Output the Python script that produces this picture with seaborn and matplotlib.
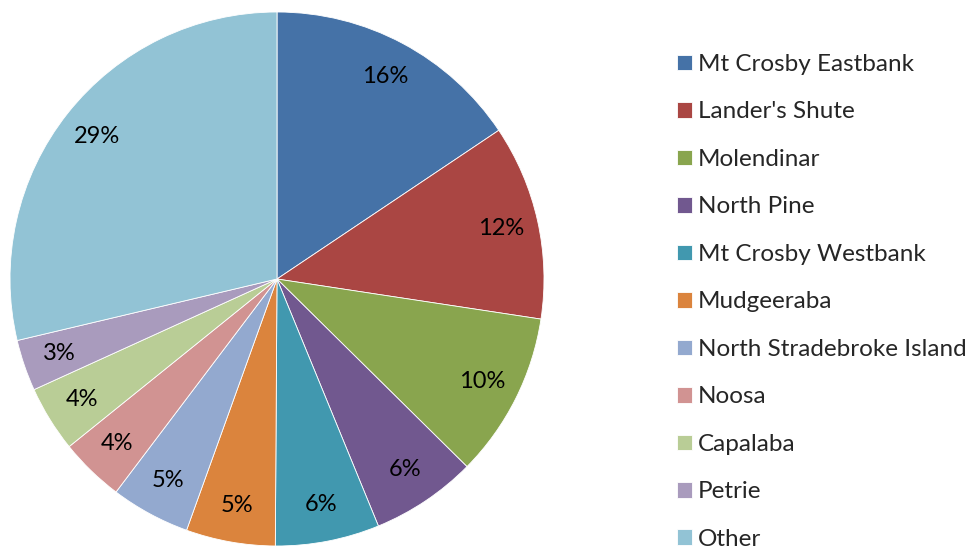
import matplotlib
matplotlib.use("Agg")
import matplotlib.pyplot as plt
import seaborn as sns

plants = ["Mt Crosby Eastbank", "Lander's Shute", "Molendinar", "North Pine",
          "Mt Crosby Westbank", "Mudgeeraba", "North Stradebroke Island",
          "Noosa", "Capalaba", "Petrie", "Other"]
share = [15.6, 11.8, 10.0, 6.4, 6.3, 5.4, 4.8, 3.9, 4.0, 3.1, 28.7]
colours = ["#4572A7", "#AA4643", "#89A54E", "#71588F", "#4198AF", "#DB843D",
           "#93A9CF", "#D19392", "#B9CD96", "#A99BBD", "#92C3D5"]

sns.set_theme(style="white")
plt.rcParams["font.family"] = ["Lato", "DejaVu Sans"]
pal = sns.color_palette(colours)

W, H = 976, 549
fig = plt.figure(figsize=(W / 100, H / 100), dpi=100)
cx, cy, r = 277, 279, 267
ax = fig.add_axes([(cx - r) / W, (H - cy - r) / H, 2 * r / W, 2 * r / H])

wedges, texts, autotexts = ax.pie(
    share, colors=pal, startangle=90, counterclock=False,
    autopct="%.0f%%", pctdistance=0.86,
    wedgeprops=dict(edgecolor="white", linewidth=0.6),
    textprops=dict(fontsize=17, color="black"))
ax.set_xlim(-1, 1)
ax.set_ylim(-1, 1)
ax.set_aspect("equal")

fig.legend(wedges, plants, loc="upper left",
           bbox_to_anchor=(677 / W, 1 - 54 / H), frameon=False,
           fontsize=17.5, handlelength=0.62, handleheight=0.62,
           handletextpad=0.25, labelspacing=1.09, borderpad=0,
           borderaxespad=0)

fig.savefig("out.png", dpi=100)
